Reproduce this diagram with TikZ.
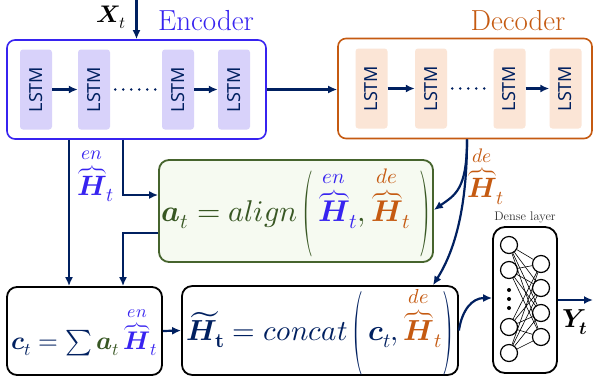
\documentclass[tikz,border=0pt]{standalone}
\usepackage{amsmath}
\usepackage{fontspec}
\usepackage{unicode-math}
\newfontfamily\lstmfont{Noto Sans}
\usetikzlibrary{arrows.meta,calc}
\definecolor{encblue}{RGB}{55,35,240}
\definecolor{navy}{RGB}{0,32,96}
\definecolor{decorange}{RGB}{197,90,17}
\definecolor{agreen}{RGB}{56,87,35}
\definecolor{agreenborder}{RGB}{70,100,45}
\definecolor{afill}{RGB}{246,250,241}
\definecolor{encfill}{RGB}{216,210,250}
\definecolor{decfill}{RGB}{251,229,214}
\newcommand{\myLparen}[1]{\mathopen{\vcenter{\hbox{\resizebox*{11pt}{#1}{$($}}}}}
\newcommand{\myRparen}[1]{\mathclose{\vcenter{\hbox{\resizebox*{11pt}{#1}{$)$}}}}}
\begin{document}
\begin{tikzpicture}[x=1pt,y=-1pt,
  arr/.style={draw=navy, line width=2.2pt, -{Latex[length=9pt,width=8pt]}},
  dotline/.style={draw=navy, line width=2.8pt, line cap=round, dash pattern=on 0pt off 8pt, shorten <=5pt, shorten >=3pt},
  encbox/.style={draw=encblue, line width=1.6pt, rounded corners=8pt, inner sep=0pt},
  decbox/.style={draw=decorange, line width=1.6pt, rounded corners=8pt, inner sep=0pt},
  cellE/.style={fill=encfill, rounded corners=3pt, minimum width=32pt, minimum height=80pt, inner sep=0pt, text=navy, font=\lstmfont\fontsize{18}{20}\selectfont},
  cellD/.style={cellE, fill=decfill},
  mathbox/.style={draw=black, line width=1.8pt, rounded corners=10pt, inner sep=0pt, font=\fontsize{30}{34}\selectfont},
  neuron/.style={circle, draw=black, line width=1.2pt, minimum size=17pt, inner sep=0pt, fill=white},
  dotn/.style={circle, fill=black, minimum size=4pt, inner sep=0pt},
]
\fill[white] (0,0) rectangle (593,381);
\useasboundingbox (0,0) rectangle (593,381);

% helper coordinates
\coordinate (xin) at (136.5,0);
\coordinate (x69) at (69,0);
\coordinate (x123) at (123,0);
\coordinate (x467) at (467,0);
\coordinate (x433) at (433,0);
\coordinate (y195) at (0,195);
\coordinate (y210) at (0,210);
\coordinate (y233) at (0,233);
\coordinate (y298) at (0,298);
\coordinate (yout) at (593,300);

% Encoder
\node[encbox, minimum width=259pt, minimum height=99pt] (enc) at (136.5,89.5) {};
\node[cellE] (e1) at (36,89.5) {\rotatebox{90}{LSTM}};
\node[cellE] (e2) at (94,89.5) {\rotatebox{90}{LSTM}};
\node[cellE] (e3) at (178,89.5) {\rotatebox{90}{LSTM}};
\node[cellE] (e4) at (234,89.5) {\rotatebox{90}{LSTM}};
\draw[arr] (e1) -- (e2);
\draw[dotline] (e2) -- (e3);
\draw[arr] (e3) -- (e4);
\node[text=encblue, font=\fontsize{29}{32}\selectfont] (enclbl) at (206,21) {Encoder};

% Decoder
\node[decbox, minimum width=254pt, minimum height=100pt] (dec) at (465,88.5) {};
\node[cellD] (d1) at (371.5,88.5) {\rotatebox{90}{LSTM}};
\node[cellD] (d2) at (431,88.5) {\rotatebox{90}{LSTM}};
\node[cellD] (d3) at (509.5,88.5) {\rotatebox{90}{LSTM}};
\node[cellD] (d4) at (565.5,88.5) {\rotatebox{90}{LSTM}};
\draw[arr] (d1) -- (d2);
\draw[dotline] (d2) -- (d3);
\draw[arr] (d3) -- (d4);
\node[text=decorange, font=\fontsize{29}{32}\selectfont] (declbl) at (518,21) {Decoder};

% input
\node[font=\fontsize{24}{28}\selectfont] (xt) at (111,17) {$\symbfit{X}_t$};
\draw[arr] (xin) -- (enc.north);
\draw[arr] (enc.east) -- (dec.west |- enc.east);

% align box
\node[mathbox, draw=agreenborder, fill=afill, minimum width=274pt, minimum height=102pt, text=agreen] (align) at (296,211)
 {$\symbfit{a}_t = align\,\myLparen{86pt}\,{\color{encblue}{\overbrace{\symbfit{H}}^{en}}_t},{\color{decorange}{\overbrace{\symbfit{H}}^{de}}_t}\;\myRparen{86pt}$};

% c_t box
\node[mathbox, minimum width=155pt, minimum height=88pt, text=navy, font=\fontsize{25.5}{30}\selectfont] (ct) at (84.5,331)
 {$\symbfit{c}_t = \sum{\color{agreen}\symbfit{a}_t}\,{\color{encblue}{\overbrace{\symbfit{H}}^{en}}_t}$};

% concat box
\node[mathbox, minimum width=276pt, minimum height=85pt, text=navy, font=\fontsize{29}{33}\selectfont] (concat) at (320,330.5)
 {$\widetilde{\symbfit{H}}_{\symbf{t}} = concat\,\myLparen{84pt}\,\symbfit{c}_t,{\color{decorange}{\overbrace{\symbfit{H}}^{de}}_t}\myRparen{84pt}$};

% labels of hidden states
\node[text=encblue, font=\fontsize{28}{32}\selectfont] (henc) at (96,175) {${\overbrace{\symbfit{H}}^{en}}_t$};
\node[text=decorange, font=\fontsize{28}{32}\selectfont] (hdec) at (486,175) {${\overbrace{\symbfit{H}}^{de}}_t$};

% connectors
\draw[arr] (enc.south -| x69) -- (ct.north -| x69);
\draw[arr] (enc.south -| x123) |- (align.west |- y195);
\draw[arr] (align.west |- y233) -| (ct.north -| x123);
\draw[arr] (ct.east) -- (concat.west);
\draw[arr] (dec.south -| x467) .. controls (467,190) and (455,195) .. (align.east |- y210);
\draw[arr] (dec.south -| x467) .. controls (467,215) and (452,255) .. (concat.north -| x433);

% dense layer
\node[draw=black, line width=1.8pt, rounded corners=12pt, minimum width=64pt, minimum height=146pt] (dense) at (525,300) {};
\node[font=\fontsize{12.5}{14}\selectfont, text=black!80] (dlbl) at (525,217) {Dense layer};
\node[neuron] (l1) at (509,245) {};
\node[neuron] (l2) at (509,270) {};
\node[neuron] (l3) at (509,327) {};
\node[neuron] (l4) at (509,353) {};
\node[neuron] (r1) at (541,264) {};
\node[neuron] (r2) at (541,288) {};
\node[neuron] (r3) at (541,313) {};
\node[neuron] (r4) at (541,337) {};
\foreach \i in {1,...,4}{\foreach \j in {1,...,4}{\draw[line width=0.6pt] (l\i) -- (r\j);}}
\node[dotn] (dt1) at (509,290) {};
\node[dotn] (dt2) at (509,299) {};
\node[dotn] (dt3) at (509,308) {};

\draw[arr] (concat.east) .. controls (462,310) and (472,298) .. (dense.west |- y298);
\draw[arr] (dense.east) -- (yout);
\node[font=\fontsize{26}{30}\selectfont] (yt) at (575,322) {$\symbfit{Y}_{\symbfit{t}}$};
\end{tikzpicture}
\end{document}
